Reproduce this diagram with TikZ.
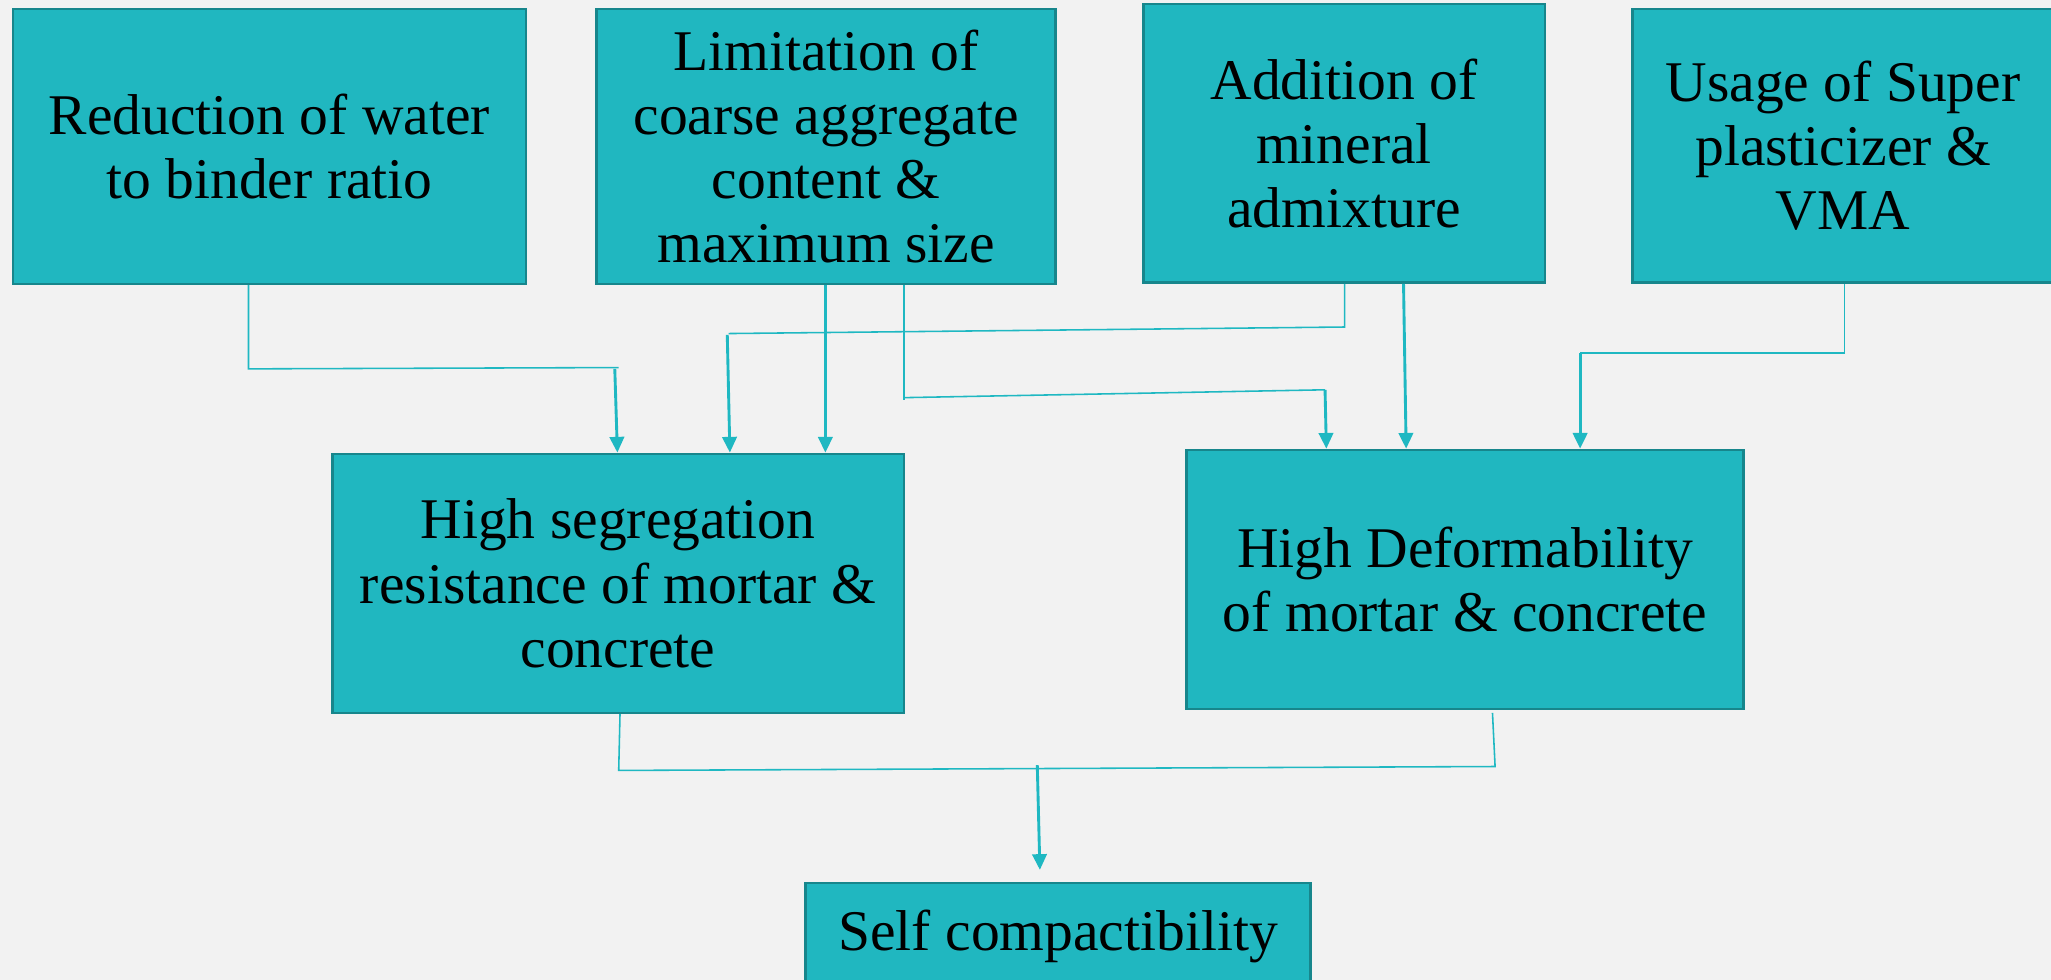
\documentclass[tikz,border=0pt]{standalone}
\usepackage{fontspec}
\setmainfont{Liberation Serif}
\usetikzlibrary{arrows.meta}
\definecolor{bg}{HTML}{F2F2F2}
\definecolor{boxfill}{HTML}{20B7C0}
\definecolor{boxdraw}{HTML}{17868C}
\definecolor{linec}{HTML}{1FB8C2}
\tikzset{
  box/.style={draw=boxdraw, fill=boxfill, line width=1pt, align=center, inner sep=0pt,
    font=\fontsize{22}{24.5}\selectfont, text=black},
  thinline/.style={draw=linec, line width=0.6pt},
  arr/.style={draw=linec, line width=1.1pt, -{Triangle[length=6pt,width=5.5pt]}}
}
\begin{document}
\begin{tikzpicture}[x=0.5pt,y=-0.5pt]
\fill[bg] (0,0) rectangle (1568,749);
\useasboundingbox (0,0) rectangle (1568,749);
\clip (0,0) rectangle (1568,749);
% top row
\node[box, minimum width=196pt, minimum height=105pt] (A) at (206,112) {Reduction of water\\to binder ratio};
\node[box, minimum width=175.5pt, minimum height=105pt] (B) at (631.5,112) {Limitation of\\coarse aggregate\\content \&\\maximum size};
\node[box, minimum width=153.5pt, minimum height=106.5pt] (C) at (1027.5,109.5) {Addition of\\mineral\\admixture};
\node[box, minimum width=161pt, minimum height=104.5pt] (D) at (1409,111.5) {Usage of Super\\plasticizer \&\\VMA};
% middle row
\node[box, minimum width=218.5pt, minimum height=99pt] (E) at (472.5,446) {High segregation\\resistance of mortar \&\\concrete};
\node[box, minimum width=213pt, minimum height=99pt] (F) at (1120,443) {High Deformability\\of mortar \& concrete};
% bottom
\node[box, minimum width=193pt, minimum height=41pt] (G) at (809,716) {Self compactibility};
% connectors
\draw[thinline] (A.south -| 190,0) -- (190,282) -- (473,281);
\draw[arr] (470,282) -- (E.north -| 472,0);
\draw[arr] (B.south -| 631,0) -- (E.north -| 631,0);
\draw[thinline] (B.south -| 691,0) -- (691,306);
\draw[thinline] (691,304) -- (1013,298);
\draw[arr] (1013,298) -- (F.north -| 1014,0);
\draw[thinline] (C.south -| 1028,0) -- (1028,250) -- (557,255);
\draw[arr] (556,256) -- (E.north -| 558,0);
\draw[arr] (C.south -| 1073,0) -- (F.north -| 1075,0);
\draw[thinline] (D.south -| 1410,0) -- (1410,270) -- (1208,270);
\draw[arr] (1208,270) -- (F.north -| 1208,0);
\draw[thinline] (E.south -| 474,0) -- (473,589) -- (1143,586) -- (1141,545);
\coordinate (j) at (793,585);
\coordinate (gtip) at (795,665);
\draw[arr] (j) -- (gtip);
\end{tikzpicture}
\end{document}
